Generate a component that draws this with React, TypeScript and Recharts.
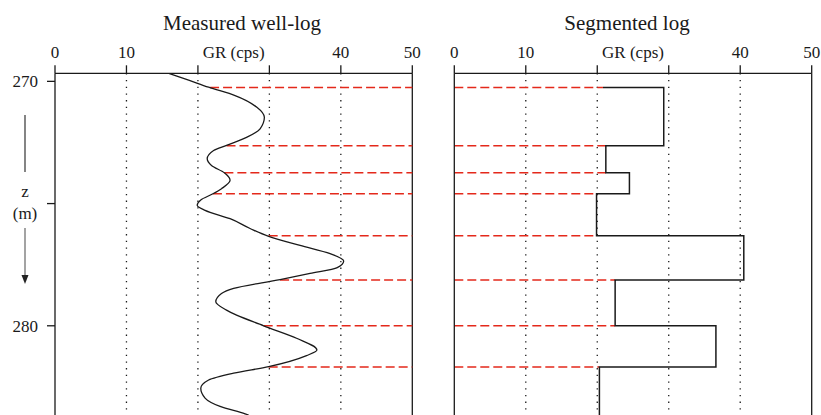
import React from "react";
import { ComposedChart, Line, XAxis, YAxis, ReferenceLine } from "recharts";

// measured gamma-ray log (depth in m, GR in cps)
const DEPTH = [
  269.67, 269.95, 270.24, 270.58, 271.06, 271.47, 271.94, 272.29, 272.62,
  272.83, 273.17, 273.44, 273.74, 274.05, 274.39, 274.6, 274.85, 275.07, 275.28,
  275.62, 276.02, 276.34, 276.71, 277.05, 277.35, 277.62, 277.86, 278.11, 278.47,
  278.68, 279.02, 279.36, 280.0, 280.51, 280.99, 281.22, 281.67, 281.94, 282.22,
  282.56, 282.96, 283.3, 283.6, 283.65,
];
const GR = [
  15.9, 18.7, 21.5, 25.2, 28.25, 29.3, 28.7, 26.8, 24.0,
  22.2, 21.3, 21.9, 23.7, 24.5, 23.3, 22.1, 20.4, 19.9, 21.0,
  24.5, 27.3, 29.9, 34.3, 38.5, 40.4, 39.5, 35.7, 31.5, 25.0,
  23.3, 22.5, 24.0, 29.2, 33.8, 36.65, 35.2, 29.9, 25.0, 21.5,
  20.4, 21.0, 23.1, 26.6, 27.1,
];

// segment boundaries and the blocky log
const BOUNDARY_DEPTH = [270.25, 272.63, 273.74, 274.6, 276.32, 278.13, 280.0, 281.69];
const BOUNDARY_GR = [21.7, 24.0, 23.7, 22.1, 29.9, 31.5, 29.2, 29.9];
const SEGMENT_GR = [29.3, 21.2, 24.5, 19.9, 40.5, 22.5, 36.6, 20.3];
const SEGMENT_START_GR = 20.8;
const LOG_END_DEPTH = 283.65;

const GR_TICKS = [0, 10, 20, 30, 40, 50];
const GRID_GR = [10, 20, 30, 40];
const DEPTH_TICKS = [270, 275, 280];
const DEPTH_DOMAIN = [269.67, 283.65];

const FONT = "'Liberation Serif', 'DejaVu Serif', serif";
const RED = "#e4291b";
const INK = "#1a1a1a";

const wellLog = DEPTH.map((depth, i) => ({ depth, gr: GR[i] }));
const segLog = [
  { depth: BOUNDARY_DEPTH[0], seg: SEGMENT_START_GR },
  ...BOUNDARY_DEPTH.map((depth, i) => ({ depth, seg: SEGMENT_GR[i] })),
  { depth: LOG_END_DEPTH, seg: SEGMENT_GR[SEGMENT_GR.length - 1] },
];

const tickStyle = { fill: INK, fontSize: 17, fontFamily: FONT };

function grAxis() {
  return (
    <XAxis
      type="number"
      orientation="top"
      domain={[0, 50]}
      ticks={GR_TICKS}
      interval={0}
      allowDataOverflow
      height={42}
      tickSize={8}
      tickMargin={7}
      tick={tickStyle}
      tickFormatter={(v: number) => (v === 20 || v === 30 ? "" : String(v))}
      stroke={INK}
      strokeWidth={1.3}
      label={{ value: "GR (cps)", position: "center", fill: INK, fontSize: 17, fontFamily: FONT }}
    />
  );
}

function gridLines() {
  return GRID_GR.map((v) => (
    <ReferenceLine key={v} x={v} stroke={INK} strokeWidth={1.3} strokeDasharray="1.3 5.4" />
  ));
}

function MeasuredLog() {
  return (
    <ComposedChart
      width={430}
      height={415}
      data={wellLog}
      layout="vertical"
      margin={{ top: 31.3, right: 17.7, bottom: 0, left: 15 }}
    >
      {grAxis()}
      <YAxis
        type="number"
        dataKey="depth"
        domain={DEPTH_DOMAIN}
        ticks={DEPTH_TICKS}
        interval={0}
        allowDataOverflow
        width={40}
        tickSize={8}
        tickMargin={9}
        tick={tickStyle}
        tickFormatter={(v: number) => (v === 275 ? "" : String(v))}
        stroke={INK}
        strokeWidth={1.3}
      />
      {gridLines()}
      <ReferenceLine x={50} stroke={INK} strokeWidth={1.3} />
      {BOUNDARY_DEPTH.map((d, i) => (
        <ReferenceLine
          key={d}
          segment={[{ x: BOUNDARY_GR[i], y: d }, { x: 50, y: d }]}
          stroke={RED}
          strokeWidth={1.5}
          strokeDasharray="9 4"
        />
      ))}
      <Line
        type="monotone"
        dataKey="gr"
        stroke={INK}
        strokeWidth={1.3}
        dot={false}
        isAnimationActive={false}
      />
    </ComposedChart>
  );
}

function SegmentedLog() {
  return (
    <ComposedChart
      width={401}
      height={415}
      data={segLog}
      layout="vertical"
      margin={{ top: 31.3, right: 9.3, bottom: 0, left: 14.3 }}
    >
      {grAxis()}
      <YAxis
        type="number"
        dataKey="depth"
        domain={DEPTH_DOMAIN}
        ticks={DEPTH_TICKS}
        interval={0}
        allowDataOverflow
        width={20}
        tickSize={8}
        tick={false}
        stroke={INK}
        strokeWidth={1.3}
      />
      {gridLines()}
      <ReferenceLine x={50} stroke={INK} strokeWidth={1.3} />
      {BOUNDARY_DEPTH.map((d, i) => (
        <ReferenceLine
          key={d}
          segment={[
            { x: 0, y: d },
            { x: Math.min(i === 0 ? SEGMENT_START_GR : SEGMENT_GR[i - 1], SEGMENT_GR[i]), y: d },
          ]}
          stroke={RED}
          strokeWidth={1.5}
          strokeDasharray="9 4"
        />
      ))}
      <Line
        type="stepBefore"
        dataKey="seg"
        stroke={INK}
        strokeWidth={1.5}
        dot={false}
        isAnimationActive={false}
      />
    </ComposedChart>
  );
}

export default function App() {
  return (
    <div
      style={{
        position: "absolute",
        left: 0,
        top: 0,
        width: 821,
        height: 415,
        overflow: "hidden",
        background: "#fff",
      }}
    >
      <div style={{ position: "absolute", left: 0, top: 0 }}>
        <MeasuredLog />
      </div>
      <div style={{ position: "absolute", left: 420, top: 0 }}>
        <SegmentedLog />
      </div>
      <svg
        width={821}
        height={415}
        style={{ position: "absolute", left: 0, top: 0, pointerEvents: "none" }}
      >
        <g fontFamily={FONT} fill={INK} textAnchor="middle">
          <text x={242} y={30} fontSize={21}>Measured well-log</text>
          <text x={627} y={30} fontSize={21}>Segmented log</text>
          <text x={25} y={197} fontSize={17}>z</text>
          <text x={25} y={218.5} fontSize={17}>(m)</text>
        </g>
        <line x1={25} y1={115} x2={25} y2={172} stroke="#333" strokeWidth={1.2} />
        <line x1={25} y1={228} x2={25} y2={277} stroke="#666" strokeWidth={1.2} />
        <polygon points="21.5,275 28.5,275 25,284" fill="#222" />
      </svg>
    </div>
  );
}
